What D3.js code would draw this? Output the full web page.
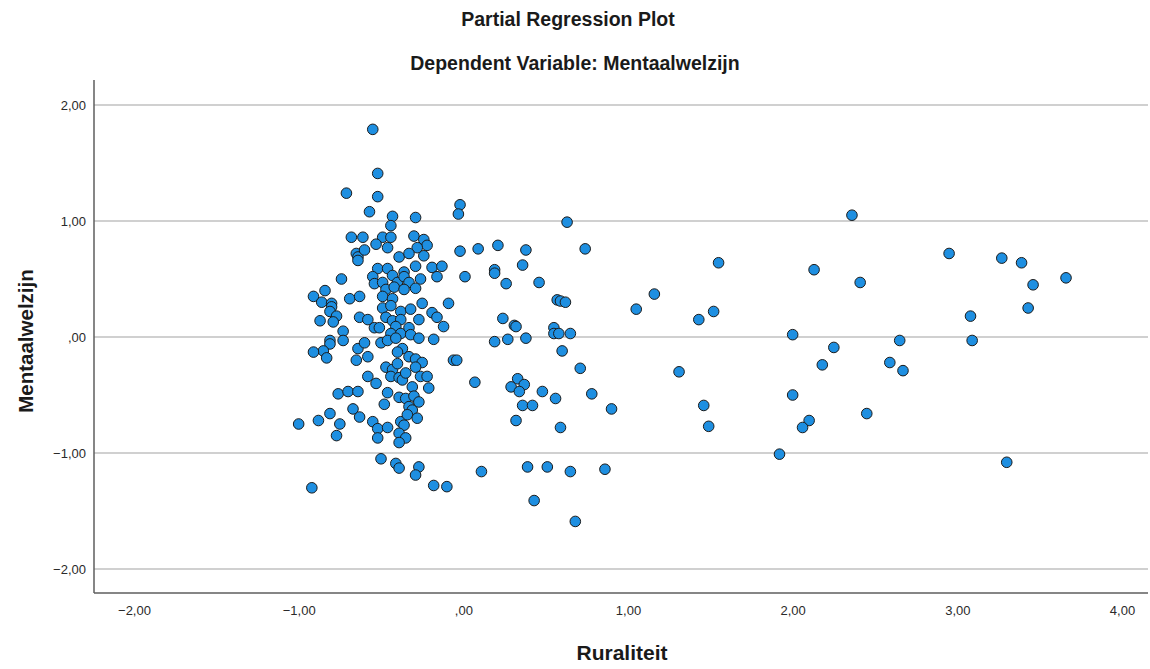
<!DOCTYPE html>
<html>
<head>
<meta charset="utf-8">
<script src="https://d3js.org/d3.v7.min.js"></script>
<style>
  html, body { margin: 0; padding: 0; background: #fff; }
  svg { display: block; font-family: "Liberation Sans", Arial, sans-serif; }
</style>
</head>
<body>
<svg id="chart" width="1150" height="669"></svg>
<script>
const title = "Partial Regression Plot";
const subtitle = "Dependent Variable: Mentaalwelzijn";
const xLabel = "Ruraliteit";
const yLabel = "Mentaalwelzijn";
const xTicks = [-2, -1, 0, 1, 2, 3, 4];
const yTicks = [-2, -1, 0, 1, 2];

// Ruraliteit (partial residual)
const ruraliteit = [
 -0.55,-0.52,-0.71,-0.52,-0.57,-0.43,-0.29,-0.02,-0.03,-0.44,
 -0.68,-0.61,-0.49,-0.44,-0.53,-0.46,-0.30,-0.24,-0.22,-0.28,
 -0.65,-0.64,-0.60,-0.39,-0.33,-0.24,-0.02,0.09,0.21,0.38,
 0.74,0.63,-0.64,-0.52,-0.46,-0.43,-0.36,-0.29,-0.19,-0.13,
 -0.74,-0.55,-0.54,-0.49,-0.40,-0.36,-0.33,-0.26,-0.16,0.01,
 -0.47,-0.42,-0.36,-0.29,-0.91,-0.84,-0.69,-0.63,-0.49,-0.43,
 -0.86,-0.80,-0.80,0.19,0.19,0.36,0.26,0.46,-0.09,-0.25,
 -0.81,-0.77,-0.87,-0.79,-0.49,-0.44,-0.38,-0.32,-0.19,-0.16,
 -0.63,-0.58,-0.47,-0.43,-0.38,-0.27,-0.12,-0.73,-0.54,-0.51,
 -0.41,-0.44,-0.38,-0.33,-0.32,-0.27,-0.18,-0.81,0.57,0.59,
 0.62,0.24,0.31,0.32,0.55,0.55,0.58,0.65,1.05,-0.73,
 -0.81,-0.85,-0.91,-0.83,-0.64,-0.60,-0.65,-0.58,-0.50,-0.46,
 -0.41,-0.37,-0.40,-0.33,-0.29,-0.25,-0.47,-0.43,-0.40,-0.29,
 -0.06,-0.04,-0.44,-0.39,-0.37,-0.35,-0.26,-0.22,-0.58,-0.53,
 -0.31,-0.21,0.07,0.19,0.27,0.38,0.60,0.71,0.33,0.29,
 0.37,0.34,0.48,0.56,0.78,-0.76,-0.70,-0.64,-0.46,-0.39,
 -0.35,-0.30,-0.48,-0.33,-0.31,-0.27,-0.67,-0.63,-0.81,-0.88,
 -1.00,-0.75,-0.77,-0.55,-0.52,-0.46,-0.52,-0.38,-0.36,-0.39,
 -0.35,-0.39,-0.34,-0.28,0.36,0.42,0.32,0.59,0.90,-0.50,
 -0.41,-0.39,-0.27,-0.29,-0.92,-0.18,-0.10,0.11,0.39,0.51,
 0.65,0.86,0.43,0.68,
 2.36,1.55,1.16,1.43,1.52,2.13,2.41,2.95,3.27,3.39,
 3.46,3.66,3.43,3.08,3.09,2.00,2.65,2.25,2.18,2.59,
 2.67,1.31,2.00,1.46,1.49,2.10,2.06,2.45,1.92,3.30
];

// Mentaalwelzijn (partial residual)
const mentaalwelzijn = [
 1.79,1.41,1.24,1.21,1.08,1.04,1.03,1.14,1.06,0.96,
 0.86,0.86,0.86,0.86,0.80,0.77,0.87,0.84,0.79,0.77,
 0.72,0.69,0.75,0.69,0.72,0.70,0.74,0.76,0.79,0.75,
 0.76,0.99,0.66,0.59,0.59,0.53,0.56,0.61,0.60,0.61,
 0.50,0.52,0.46,0.47,0.47,0.52,0.47,0.50,0.52,0.52,
 0.41,0.43,0.41,0.42,0.35,0.40,0.33,0.35,0.35,0.33,
 0.30,0.29,0.26,0.58,0.55,0.62,0.46,0.47,0.29,0.29,
 0.22,0.18,0.14,0.13,0.25,0.27,0.22,0.24,0.21,0.17,
 0.17,0.15,0.17,0.14,0.15,0.15,0.09,0.05,0.08,0.08,
 0.09,0.03,0.03,0.08,0.02,-0.01,-0.02,-0.03,0.32,0.31,
 0.30,0.16,0.10,0.09,0.08,0.03,0.03,0.03,0.24,-0.03,
 -0.06,-0.12,-0.13,-0.18,-0.10,-0.05,-0.20,-0.17,-0.05,-0.03,
 -0.01,-0.10,-0.13,-0.17,-0.19,-0.22,-0.26,-0.28,-0.23,-0.26,
 -0.20,-0.20,-0.34,-0.35,-0.37,-0.31,-0.34,-0.34,-0.34,-0.40,
 -0.43,-0.44,-0.39,-0.04,-0.02,-0.01,-0.12,-0.27,-0.36,-0.43,
 -0.41,-0.47,-0.47,-0.53,-0.49,-0.49,-0.47,-0.47,-0.48,-0.52,
 -0.53,-0.51,-0.58,-0.60,-0.63,-0.56,-0.62,-0.69,-0.66,-0.72,
 -0.75,-0.75,-0.85,-0.73,-0.79,-0.78,-0.87,-0.73,-0.76,-0.83,
 -0.87,-0.91,-0.67,-0.70,-0.59,-0.59,-0.72,-0.78,-0.62,-1.05,
 -1.09,-1.13,-1.12,-1.19,-1.30,-1.28,-1.29,-1.16,-1.12,-1.12,
 -1.16,-1.14,-1.41,-1.59,
 1.05,0.64,0.37,0.15,0.22,0.58,0.47,0.72,0.68,0.64,
 0.45,0.51,0.25,0.18,-0.03,0.02,-0.03,-0.09,-0.24,-0.22,
 -0.29,-0.30,-0.50,-0.59,-0.77,-0.72,-0.78,-0.66,-1.01,-1.08
];

const points = ruraliteit.map((v, i) => ({ x: v, y: mentaalwelzijn[i] }));

const svg = d3.select("#chart");
const plotLeft = 94, plotRight = 1148, plotTop = 80, plotBottom = 593;

const xScale = d3.scaleLinear().domain([-2, 4]).range([134, 1122]);
const yScale = d3.scaleLinear().domain([-2, 2]).range([569, 105]);
const fmt = d => (d === 0 ? ",00" : d3.format(".2f")(d).replace(".", ","));

// gridlines
svg.append("g")
  .selectAll("line")
  .data(yTicks)
  .join("line")
  .attr("x1", plotLeft).attr("x2", plotRight)
  .attr("y1", d => yScale(d)).attr("y2", d => yScale(d))
  .attr("stroke", "#d0d0d0")
  .attr("stroke-width", 2);

// y axis
const yAxis = svg.append("g")
  .attr("transform", `translate(${plotLeft},0)`)
  .call(d3.axisLeft(yScale).tickValues(yTicks).tickFormat(fmt).tickSize(0).tickPadding(8));
yAxis.select(".domain").remove();
yAxis.selectAll("text").attr("font-size", 13).attr("fill", "#2a2a2a").attr("font-family", "Liberation Sans, Arial, sans-serif");

// x axis
const xAxis = svg.append("g")
  .attr("transform", `translate(0,${plotBottom})`)
  .call(d3.axisBottom(xScale).tickValues(xTicks).tickFormat(fmt).tickSize(0).tickPadding(13));
xAxis.select(".domain").remove();
xAxis.selectAll("text").attr("font-size", 13).attr("fill", "#2a2a2a").attr("font-family", "Liberation Sans, Arial, sans-serif");

// axis lines
svg.append("line").attr("x1", plotLeft).attr("x2", plotLeft).attr("y1", plotTop).attr("y2", plotBottom)
  .attr("stroke", "#5e5e5e").attr("stroke-width", 1.5);
svg.append("line").attr("x1", plotLeft).attr("x2", plotRight).attr("y1", plotBottom).attr("y2", plotBottom)
  .attr("stroke", "#5e5e5e").attr("stroke-width", 1.5);

// points
svg.append("g")
  .selectAll("circle")
  .data(points)
  .join("circle")
  .attr("cx", d => xScale(d.x))
  .attr("cy", d => yScale(d.y))
  .attr("r", 5.3)
  .attr("fill", "#1e8fe1")
  .attr("stroke", "#1b1b1b")
  .attr("stroke-width", 1);

// titles
svg.append("text").attr("x", 568).attr("y", 26).attr("text-anchor", "middle")
  .attr("font-size", 19.5).attr("font-weight", "bold").attr("fill", "#1a1a1a").text(title);
svg.append("text").attr("x", 575).attr("y", 70).attr("text-anchor", "middle")
  .attr("font-size", 19.5).attr("font-weight", "bold").attr("fill", "#1a1a1a").text(subtitle);
svg.append("text").attr("x", 622).attr("y", 660).attr("text-anchor", "middle")
  .attr("font-size", 21).attr("font-weight", "bold").attr("fill", "#1a1a1a").text(xLabel);
svg.append("text").attr("transform", "translate(33,341) rotate(-90)").attr("text-anchor", "middle")
  .attr("font-size", 20.5).attr("font-weight", "bold").attr("fill", "#1a1a1a").text(yLabel);
</script>
</body>
</html>
